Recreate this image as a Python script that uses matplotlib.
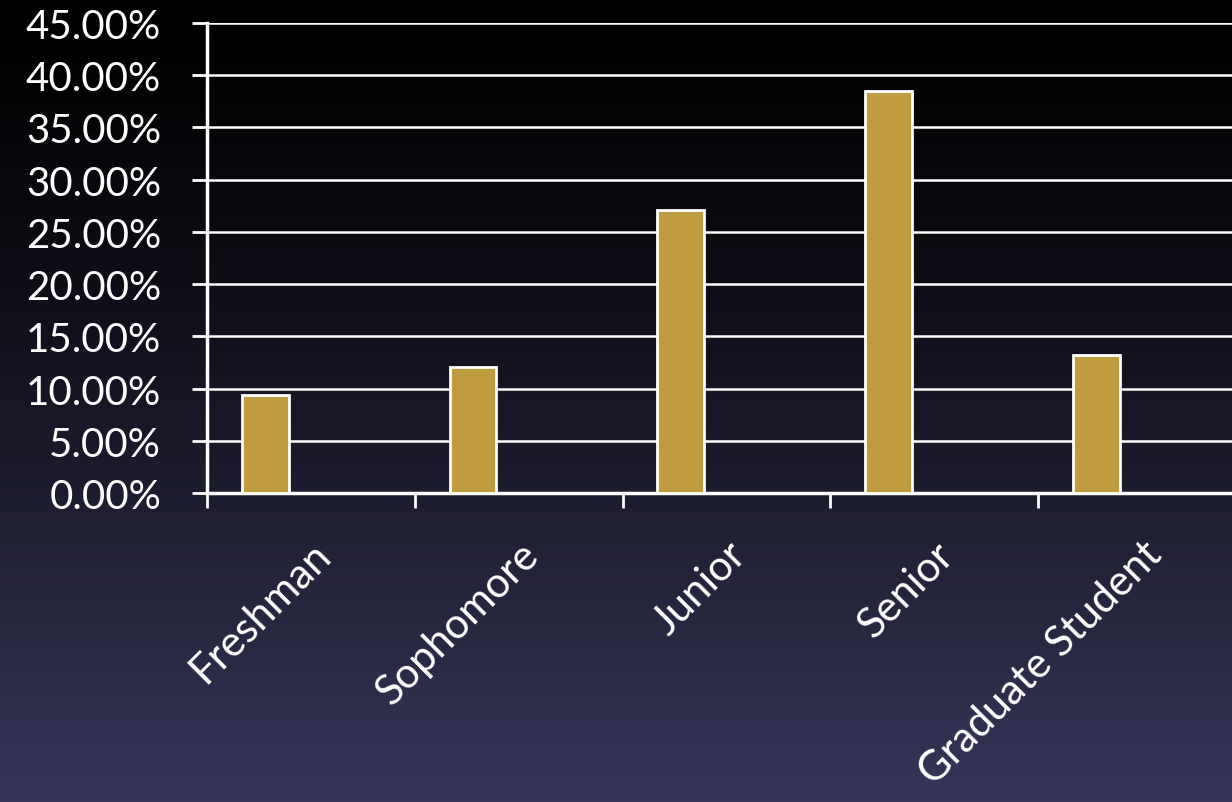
import numpy as np
import matplotlib
matplotlib.use('Agg')
import matplotlib.pyplot as plt
from matplotlib.colors import LinearSegmentedColormap

# data
categories = ['Freshman', 'Sophomore', 'Junior', 'Senior', 'Graduate Student']
shares = [9.4, 12.1, 27.1, 38.5, 13.2]
yticks = [0, 5, 10, 15, 20, 25, 30, 35, 40, 45]

plt.rcParams['font.family'] = ['Lato', 'DejaVu Sans']

fig = plt.figure(figsize=(12.32, 8.03), dpi=100)

# gradient background (black at top, slate blue at bottom)
bg = fig.add_axes([0, 0, 1, 1], zorder=0)
cmap = LinearSegmentedColormap.from_list('bg', ['#000000', '#37365a'])
grad = (np.linspace(0, 1, 256) ** 1.3).reshape(-1, 1)
bg.imshow(grad, aspect='auto', cmap=cmap, extent=[0, 1, 1, 0], vmin=0, vmax=1)
bg.set_axis_off()

# plot area (right edge runs past the figure like in the original)
ax = fig.add_axes([207 / 1232, 1 - 494 / 803, 1039 / 1232, 470 / 803], zorder=1)
ax.set_facecolor('none')

x = np.arange(len(categories))
ax.bar(x - 0.22, shares, width=0.225, color='#bf9b3f', edgecolor='white',
       linewidth=2, zorder=3)

ax.set_xlim(-0.5, len(categories) - 0.5)
ax.set_ylim(0, 45)
ax.set_yticks(yticks)
ax.set_yticklabels([f'{v:.2f}%' for v in yticks])
ax.yaxis.grid(True, color='white', linewidth=1.8)
ax.set_axisbelow(True)

ax.set_xticks(x)
ax.set_xticklabels(categories, rotation=45, ha='right', rotation_mode='anchor')
ax.set_xticks(np.arange(len(categories)) - 0.5, minor=True)
ax.tick_params(axis='x', which='major', length=0, pad=30, labelsize=30, colors='white')
ax.tick_params(axis='x', which='minor', length=11, width=2, color='white', direction='out')
ax.tick_params(axis='y', length=11, width=2, color='white', pad=22, labelsize=29,
               labelcolor='white')

for side in ['top', 'right']:
    ax.spines[side].set_visible(False)
for side in ['left', 'bottom']:
    ax.spines[side].set_color('white')
    ax.spines[side].set_linewidth(2.5)

fig.savefig('out.png', dpi=100)
